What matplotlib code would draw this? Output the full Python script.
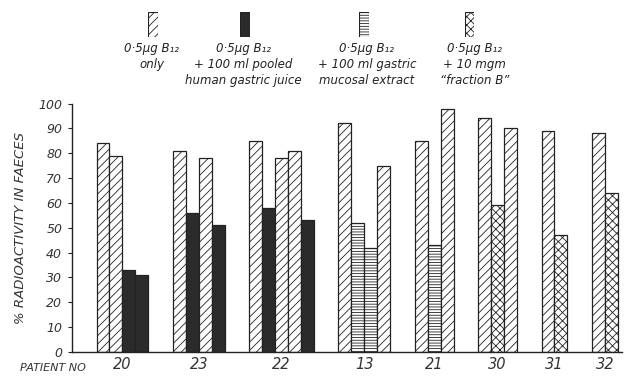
import numpy as np
import matplotlib.pyplot as plt

plt.rcParams['font.family'] = ['DejaVu Sans']
plt.rcParams['hatch.linewidth'] = 0.6

# Data
patients = ["20", "23", "22", "13", "21", "30", "31", "32"]
treatments = [
    ["only", "only", "juice", "juice"],
    ["only", "juice", "only", "juice"],
    ["only", "juice", "only", "only", "juice"],
    ["only", "mucosal", "mucosal", "only"],
    ["only", "mucosal", "only"],
    ["only", "fraction", "only"],
    ["only", "fraction"],
    ["only", "fraction"],
]
values = [
    [84, 79, 33, 31],
    [81, 56, 78, 51],
    [85, 58, 78, 81, 53],
    [92, 52, 42, 75],
    [85, 43, 98],
    [94, 59, 90],
    [89, 47],
    [88, 64],
]
legend_keys = ["only", "juice", "mucosal", "fraction"]
legend_texts = [
    "0·5μg B₁₂\nonly",
    "0·5μg B₁₂\n+ 100 ml pooled\nhuman gastric juice",
    "0·5μg B₁₂\n+ 100 ml gastric\nmucosal extract",
    "0·5μg B₁₂\n+ 10 mgm\n\u201cfraction B\u201d",
]

styles = {
    "only": dict(facecolor="white", hatch="////"),
    "juice": dict(facecolor="#2b2b2b", hatch=None),
    "mucosal": dict(facecolor="white", hatch="------"),
    "fraction": dict(facecolor="white", hatch="xxxx"),
}

ink = "#222222"
fig = plt.figure(figsize=(6.37, 3.78), dpi=100)
ax = fig.add_axes([0.113, 0.069, 0.864, 0.657])

# bars of one patient sit side by side, patients separated by a gap
width = 1.0
gap = 1.9
x = gap
centers = []
for trts, vals in zip(treatments, values):
    start = x
    for t, v in zip(trts, vals):
        ax.bar(x, v, width=width, align="edge", edgecolor=ink, linewidth=0.9, **styles[t])
        x += width
    centers.append((start + x) / 2)
    x += gap

ax.set_xlim(0, x - gap + 0.35)
ax.set_ylim(0, 100)
ax.set_yticks(np.arange(0, 101, 10))
ax.set_yticklabels([str(v) for v in range(0, 101, 10)], fontstyle="italic", fontsize=9, color="#333")
ax.set_xticks(centers)
ax.set_xticklabels(patients, fontstyle="italic", fontsize=10.5, color="#333")
ax.tick_params(axis="x", length=0, pad=4)
ax.tick_params(axis="y", length=3, width=0.8, color=ink, pad=4)
for s in ["top", "right"]:
    ax.spines[s].set_visible(False)
for s in ["left", "bottom"]:
    ax.spines[s].set_color(ink)
    ax.spines[s].set_linewidth(1.0)

ax.set_ylabel("% RADIOACTIVITY IN FAECES", fontstyle="italic", fontsize=9.5, color="#333", labelpad=8)
fig.text(0.032, 0.027, "PATIENT NO", fontstyle="italic", fontsize=8, color="#333", va="center")

# Legend across the top
key_x = [0.240, 0.385, 0.571, 0.737]
text_x = [0.238, 0.382, 0.576, 0.745]
for k, kx, tx, txt in zip(legend_keys, key_x, text_x, legend_texts):
    kax = fig.add_axes([kx - 0.0075, 0.902, 0.015, 0.066])
    kax.bar(0, 1, width=1, align="edge", edgecolor=ink, linewidth=0.8, **styles[k])
    kax.set_xlim(0, 1)
    kax.set_ylim(0, 1)
    kax.axis("off")
    fig.text(tx, 0.888, txt, ha="center", va="top", fontstyle="italic", fontsize=8.5,
             color="#222", linespacing=1.3)

fig.savefig("out.png", dpi=100)
